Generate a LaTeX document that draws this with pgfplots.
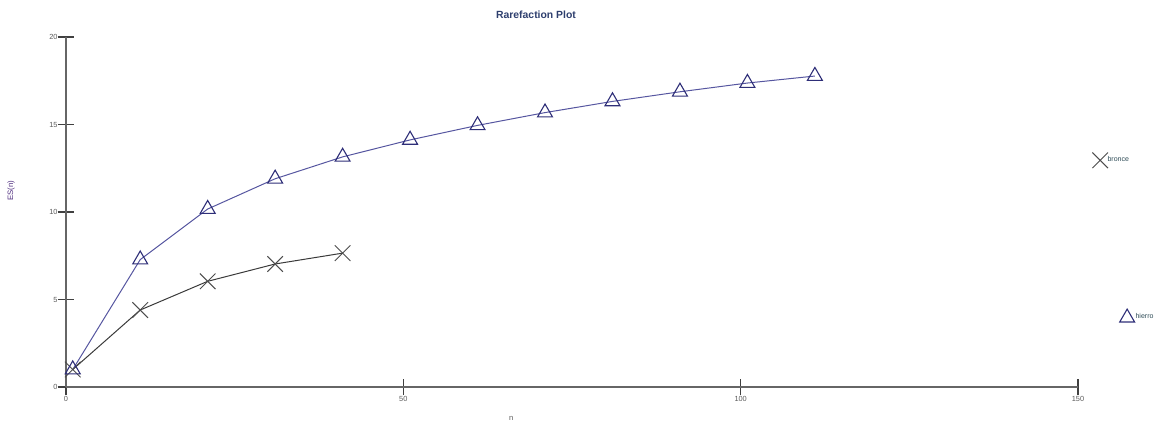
\documentclass[border=0pt]{standalone}
\usepackage{pgfplots}
\pgfplotsset{compat=1.18}
\usepackage{fontspec}
\setmainfont{Liberation Sans}

\definecolor{hierroline}{HTML}{5656A0}
\definecolor{hierromark}{HTML}{2E2E78}
\definecolor{bronceline}{HTML}{3A3A3A}
\definecolor{axisgray}{HTML}{666666}
\definecolor{ticklab}{HTML}{5A5A5A}
\definecolor{titlecol}{HTML}{2E3F6E}
\definecolor{ylabcol}{HTML}{4E2C7E}
\definecolor{legtext}{HTML}{2C4A55}

% legend images: a single mark, the second one shifted right
\pgfplotsset{
  legmark0/.style={legend image code/.code={\draw[##1] plot coordinates {(0pt,0pt)};}},
  legmark1/.style={legend image code/.code={\draw[##1] plot coordinates {(13.5pt,0pt)};}},
}

\begin{document}
\begin{tikzpicture}
\path[use as bounding box] (0,0) rectangle (579.5pt,210pt);
\begin{axis}[
  at={(33pt,16.5pt)}, anchor=south west,
  scale only axis,
  width=506pt, height=175pt,
  xmin=0, xmax=150, ymin=0, ymax=20,
  axis lines=left,
  axis line style={draw=axisgray, line width=0.7pt, -},
  xtick={0,50,100,150},
  ytick={0,5,10,15,20},
  tick align=center,
  major tick length=8pt,
  tick style={draw=black!75, line width=0.6pt},
  /pgf/number format/assume math mode=true,
  ticklabel style={font=\fontsize{3.7pt}{4pt}\selectfont, text=ticklab},
  yticklabel style={inner sep=0pt, xshift=0pt},
  xticklabel style={inner sep=0pt, yshift=-0.5pt},
  title={Rarefaction Plot},
  title style={at={(0.4644,1.063)}, anchor=center, yshift=-6pt,
    font=\bfseries\fontsize{5.2pt}{6pt}\selectfont, text=titlecol},
  xlabel={n},
  xlabel style={at={(0.44,-0.09)}, anchor=center,
    font=\fontsize{3.8pt}{4pt}\selectfont, text=ticklab},
  ylabel={ES(n)},
  ylabel style={at={(-0.0543,0.56)}, anchor=center,
    font=\fontsize{3.9pt}{4.5pt}\selectfont, text=ylabcol},
  legend cell align=left,
  legend style={draw=none, fill=none, inner sep=0pt,
    at={(1.0138,0.671)}, anchor=north west,
    row sep=70.5pt, column sep=0pt,
    nodes={inner sep=0.5pt, text=legtext,
      font=\fontsize{3.5pt}{4pt}\selectfont}},
  clip=false,
]
% bronce
\addplot[color=bronceline, line width=0.5pt,
  mark=x, mark size=5.5pt, mark options={draw=black!70, line width=0.5pt},
  legmark0]
  coordinates {(1,1.0) (11,4.4) (21,6.04) (31,7.03) (41,7.65)};
\addlegendentry{\makebox[0pt][l]{\hspace*{-14pt}bronce}}
% hierro
\addplot[color=hierroline, line width=0.5pt,
  mark=triangle, mark size=4.3pt, mark options={draw=hierromark, line width=0.55pt},
  legmark1]
  coordinates {(1,1.0) (11,7.28) (21,10.17) (31,11.9) (41,13.15) (51,14.12)
    (61,14.95) (71,15.68) (81,16.32) (91,16.87) (101,17.37) (111,17.77)};
\addlegendentry{hierro}
\end{axis}
\end{tikzpicture}
\end{document}
